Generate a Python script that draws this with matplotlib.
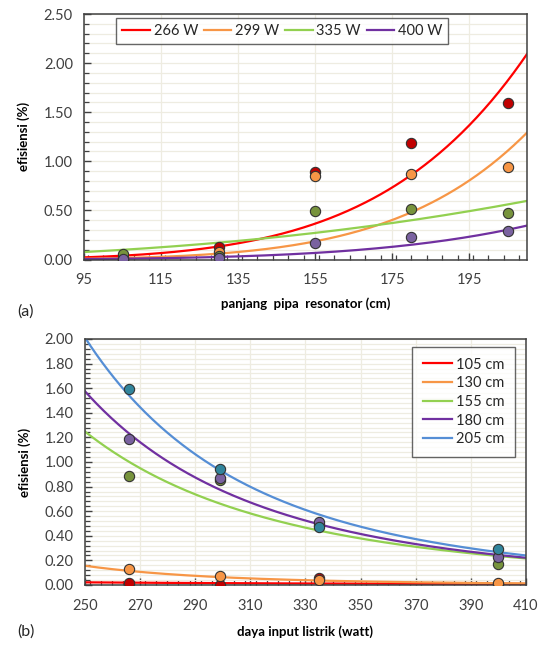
import numpy as np
import matplotlib
matplotlib.use("Agg")
import matplotlib.pyplot as plt
from matplotlib.ticker import MultipleLocator, FormatStrFormatter

# pipe length (cm) and electric input power (watt)
lengths = [105, 130, 155, 180, 205]
powers = [266, 299, 335, 400]

# efficiency (%) per input power, one value per pipe length
eff_266 = [0.02, 0.13, 0.89, 1.19, 1.59]
eff_299 = [0.00, 0.075, 0.85, 0.87, 0.94]
eff_335 = [0.055, 0.04, 0.49, 0.51, 0.47]
eff_400 = [0.005, 0.02, 0.17, 0.225, 0.29]

# power trendlines: y = c * (x / x_ref) ** b
trend_a_ref = 155
trend_a_c = [0.365, 0.185, 0.271, 0.067]
trend_a_b = [5.75, 6.4, 2.6, 5.4]
trend_b_ref = 300
trend_b_c = [0.015, 0.063, 0.654, 0.765, 0.92]
trend_b_b = [-2.0, -5.0, -3.55, -3.97, -4.3]

power_labels = ["266 W", "299 W", "335 W", "400 W"]
length_labels = ["105 cm", "130 cm", "155 cm", "180 cm", "205 cm"]

line_a = ["#ff0000", "#f79646", "#92d050", "#7030a0"]
mark_a = ["#c00000", "#f79646", "#77933c", "#7a62a0"]
line_b = ["#ff0000", "#f79646", "#92d050", "#7030a0", "#558ed5"]
mark_b = ["#c00000", "#f79646", "#77933c", "#7a62a0", "#31859c"]

plt.rcParams["font.family"] = ["Lato", "DejaVu Sans"]
plt.rcParams["xtick.direction"] = "in"
plt.rcParams["ytick.direction"] = "in"

table = np.array([eff_266, eff_299, eff_335, eff_400])

fig = plt.figure(figsize=(5.45, 6.45), dpi=100)
W, H = 545.0, 645.0


def px_axes(l, t, r, b):
    return fig.add_axes([l / W, 1 - b / H, (r - l) / W, (b - t) / H])


def style(ax, major_y, minor_y, major_x, minor_x):
    ax.yaxis.set_major_locator(MultipleLocator(major_y))
    ax.yaxis.set_minor_locator(MultipleLocator(minor_y))
    ax.xaxis.set_minor_locator(MultipleLocator(minor_x))
    ax.yaxis.set_major_formatter(FormatStrFormatter("%.2f"))
    ax.grid(True, axis="y", which="both", color="#eeece1", lw=0.9, zorder=0)
    ax.grid(True, axis="x", which="major", color="#eeece1", lw=0.9, zorder=0)
    ax.set_axisbelow(True)
    for s in ax.spines.values():
        s.set_color("#404040")
        s.set_linewidth(1.1)
    ax.tick_params(which="major", length=5, width=1.0, color="#404040",
                   labelsize=10.5, labelcolor="#404040", pad=8)
    ax.tick_params(which="minor", length=3.5, width=0.9, color="#404040")
    ax.tick_params(axis="x", pad=10)
    ax.set_ylabel("efisiensi (%)", fontsize=9.5, fontweight="bold", labelpad=10)


def frame(leg):
    leg.get_frame().set_edgecolor("#404040")
    leg.get_frame().set_linewidth(1.0)
    for t in leg.get_texts():
        t.set_color("#262626")


# (a) efficiency vs pipe length
ax1 = px_axes(84, 14, 527, 259.5)
xs = np.linspace(95, 210, 300)
for i in range(len(powers)):
    ax1.plot(xs, trend_a_c[i] * (xs / trend_a_ref) ** trend_a_b[i],
             color=line_a[i], lw=1.6, label=power_labels[i], zorder=2)
for i in range(len(powers)):
    ax1.plot(lengths, table[i], "o", ms=7.4, mfc=mark_a[i], mec="#333333",
             mew=0.8, zorder=3)
ax1.set_xlim(95, 210)
ax1.set_ylim(0, 2.5)
ax1.set_xticks(np.arange(95, 200, 20))
style(ax1, 0.5, 0.1, 20, 4)
ax1.set_xlabel("panjang  pipa  resonator (cm)", fontsize=9.5, fontweight="bold",
               labelpad=7)
leg = ax1.legend(loc="upper left", bbox_to_anchor=(0.073, 0.983), ncol=4,
                 fontsize=10.5, frameon=True, fancybox=False, handlelength=1.9,
                 handletextpad=0.25, columnspacing=0.4, borderpad=0.4,
                 borderaxespad=0)
frame(leg)

# (b) efficiency vs electric input power
ax2 = px_axes(84.7, 339, 526, 585)
xs = np.linspace(250, 410, 300)
for j in range(len(lengths)):
    ax2.plot(xs, trend_b_c[j] * (xs / trend_b_ref) ** trend_b_b[j],
             color=line_b[j], lw=1.6, label=length_labels[j], zorder=2)
for j in range(len(lengths)):
    ax2.plot(powers, table[:, j], "o", ms=7.4, mfc=mark_b[j], mec="#333333",
             mew=0.8, zorder=3)
ax2.set_xlim(250, 410)
ax2.set_ylim(0, 2.0)
ax2.set_xticks(np.arange(250, 411, 20))
style(ax2, 0.2, 0.04, 20, 4)
ax2.set_xlabel("daya input listrik (watt)", fontsize=9.5, fontweight="bold",
               labelpad=9)
leg2 = ax2.legend(loc="upper right", bbox_to_anchor=(0.975, 0.969),
                  fontsize=10.5, frameon=True, fancybox=False, handlelength=2.0,
                  handletextpad=0.25, labelspacing=0.32, borderpad=0.75,
                  borderaxespad=0)
frame(leg2)

fig.text(17 / W, 1 - 312 / H, "(a)", fontsize=11.5, color="#262626", va="center")
fig.text(17 / W, 1 - 632 / H, "(b)", fontsize=11.5, color="#262626", va="center")

fig.savefig("out.png", dpi=100)
